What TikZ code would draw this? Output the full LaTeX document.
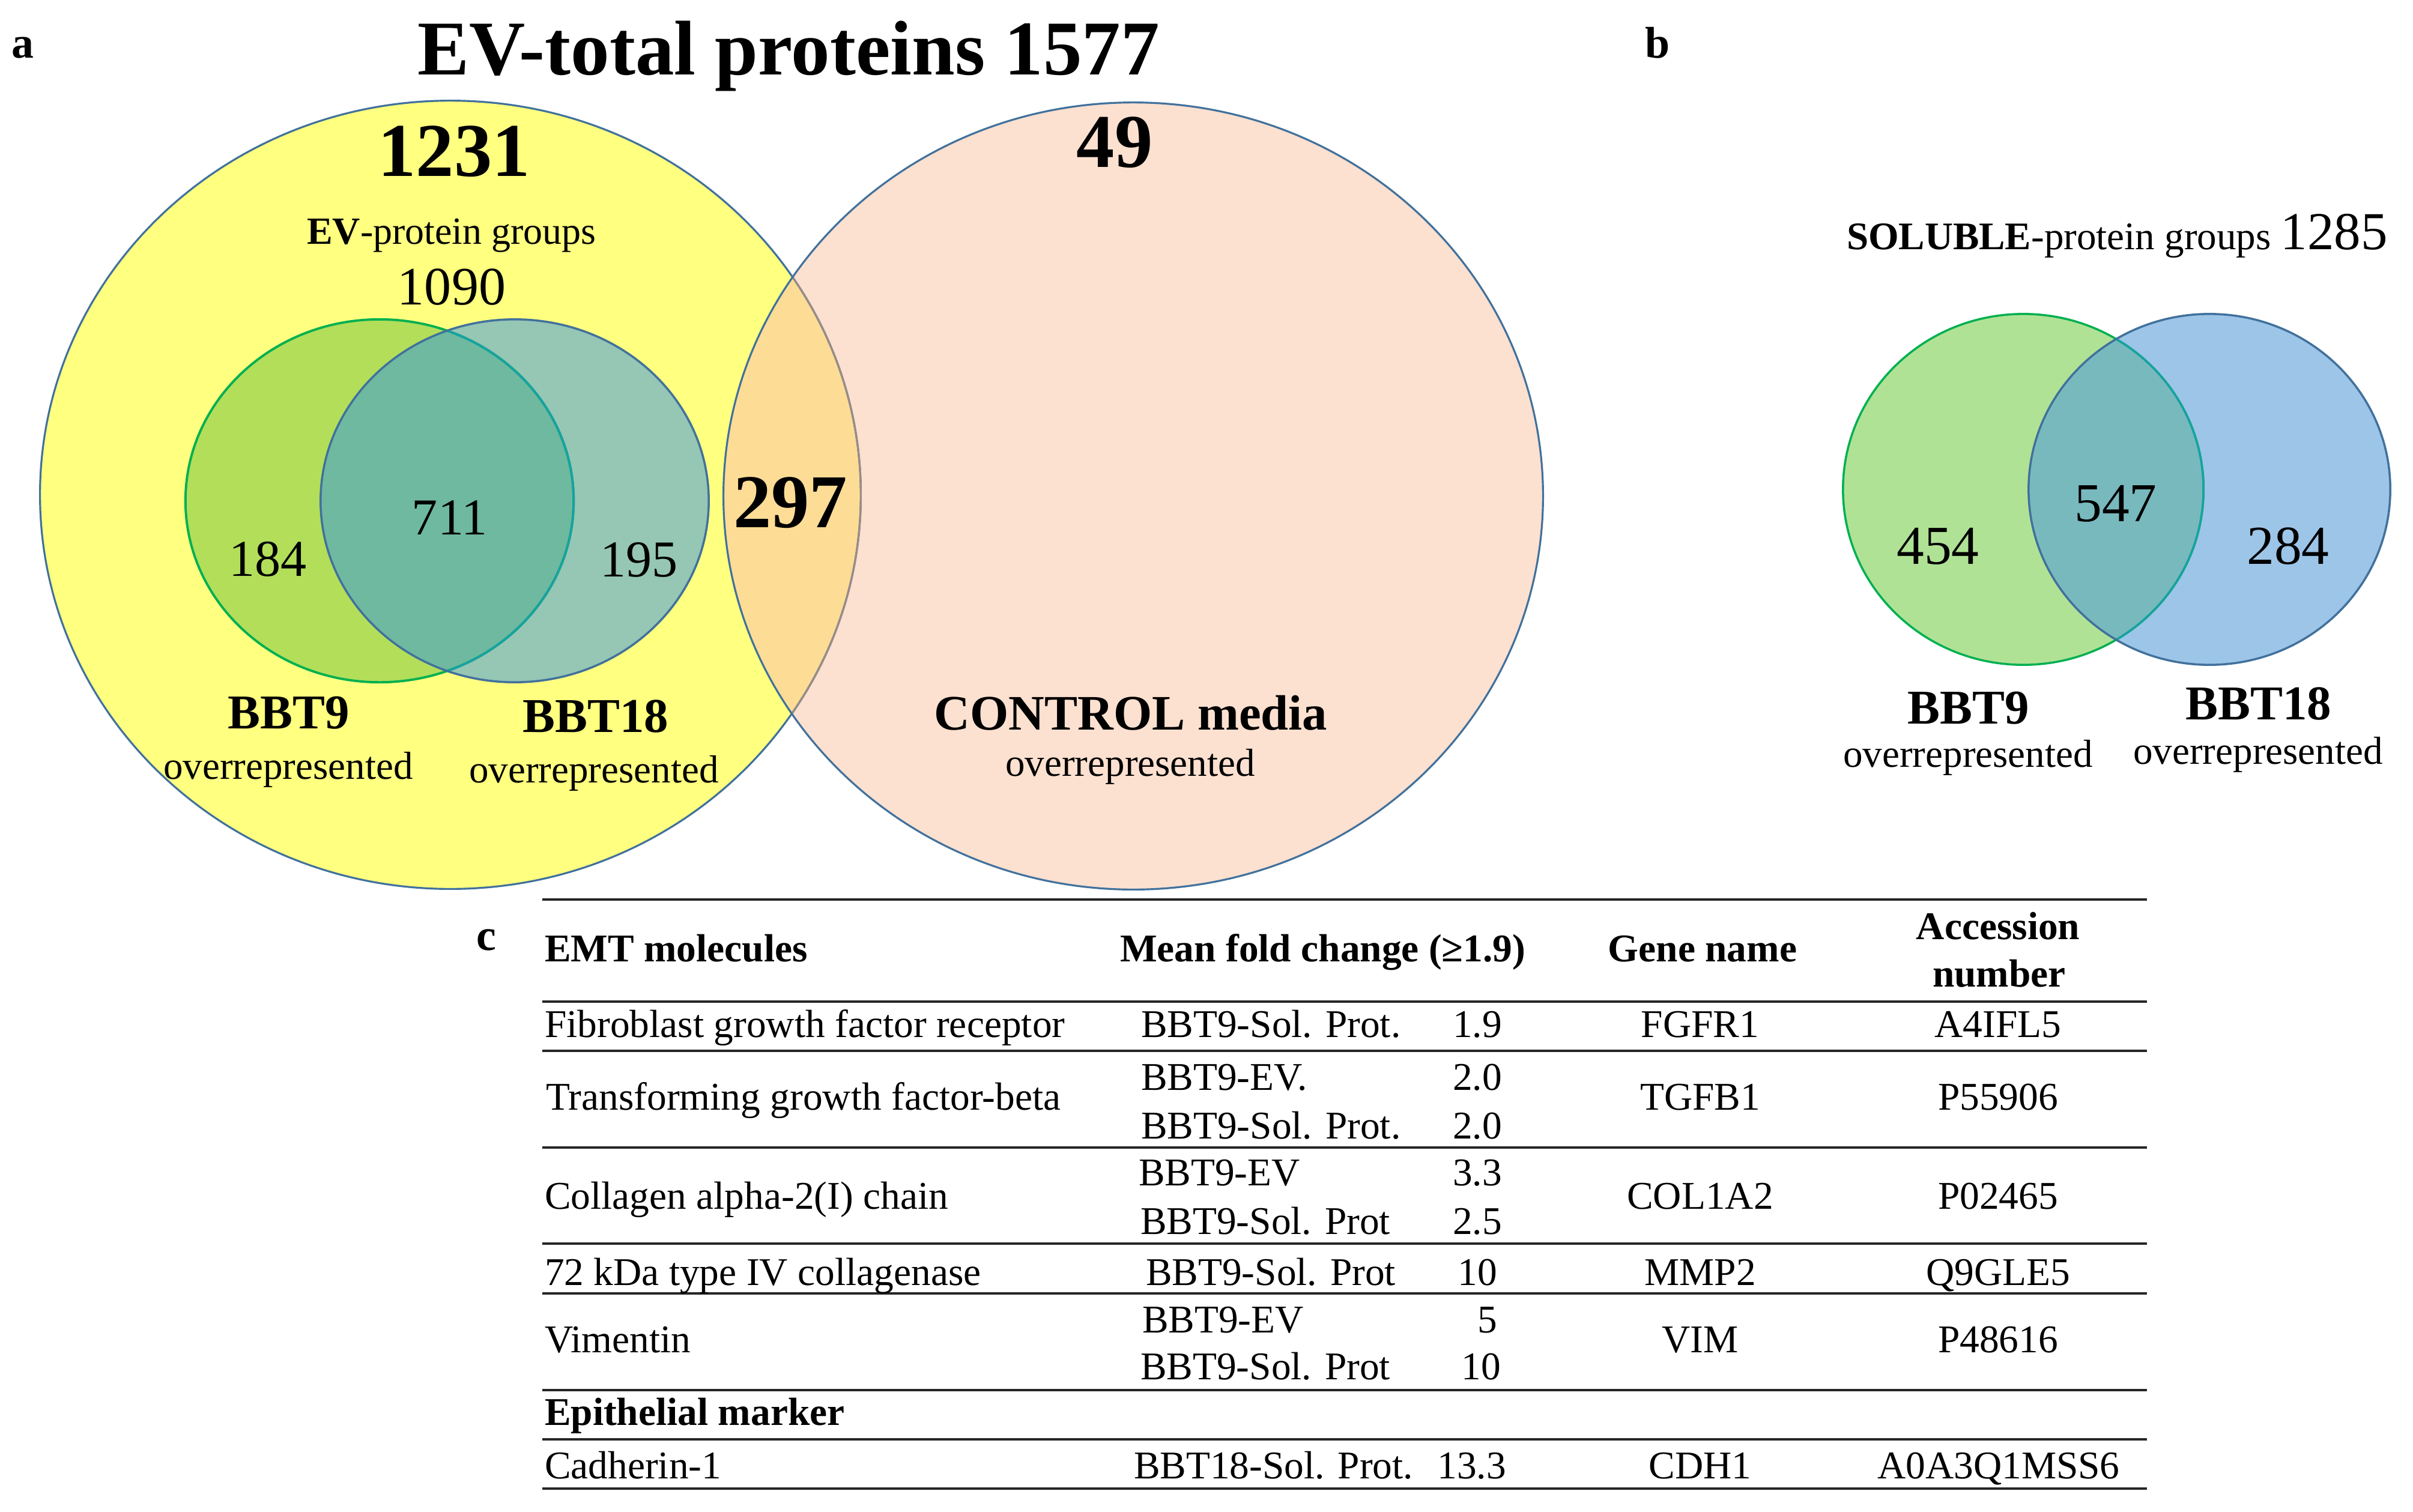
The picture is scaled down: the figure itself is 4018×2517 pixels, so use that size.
\documentclass[tikz,border=0pt]{standalone}
\usepackage{fontspec}
\setmainfont{Liberation Serif}
\newcommand\fsz[1]{\fontsize{#1pt}{#1pt}\selectfont}
\definecolor{cyel}{HTML}{FFFF80}
\definecolor{cpeach}{HTML}{FCE0D0}
\definecolor{cyp}{HTML}{FDDC96}
\definecolor{cedge}{HTML}{41719C}
\definecolor{cedgeg}{HTML}{9A8C86}
\definecolor{cgreen}{HTML}{B2DE5A}
\definecolor{cteal}{HTML}{96C6B4}
\definecolor{cgt}{HTML}{6EB9A0}
\definecolor{cgedge}{HTML}{00B050}
\definecolor{cgtedge}{HTML}{17A2A0}
\definecolor{cbgreen}{HTML}{B0E296}
\definecolor{cblue}{HTML}{9DC5E8}
\definecolor{cbgb}{HTML}{78B9BE}
\begin{document}
\begin{tikzpicture}[x=0.01cm,y=-0.01cm,
  txt/.style={inner sep=0pt, outer sep=0pt, anchor=base},
  titletxt/.style={txt, font=\fsz{36.7}\bfseries},
  plabel/.style={txt, font=\fsz{21}\bfseries},
  bignum/.style={txt, font=\fsz{36}\bfseries},
  num/.style={txt, font=\fsz{24.5}},
  bnum/.style={txt, font=\fsz{26}},
  grp/.style={txt, font=\fsz{23}\bfseries},
  over/.style={txt, font=\fsz{18.5}},
  cell/.style={txt, font=\fsz{18.6}},
  cellw/.style={cell, anchor=base west},
  celle/.style={cell, anchor=base east},
  head/.style={cell, font=\fsz{18.6}\bfseries},
  headw/.style={head, anchor=base west},
  rule/.style={line width=1.15pt, black!85}]
\useasboundingbox (0,0) rectangle (4018,2517);
\def\Eyel{(750,824) ellipse [x radius=6.83cm, y radius=6.56cm]}
\def\Epea{(1887,826) ellipse [x radius=6.82cm, y radius=6.55cm]}
\def\Egrn{(632,834) ellipse [x radius=3.23cm, y radius=3.02cm]}
\def\Etea{(857,834) ellipse [x radius=3.23cm, y radius=3.02cm]}
\def\Ebg{(3369,815) ellipse [x radius=3.00cm, y radius=2.92cm]}
\def\Ebb{(3679,815) ellipse [x radius=3.01cm, y radius=2.92cm]}
% ---- panel a: big circles
\fill[cyel] \Eyel;
\fill[cpeach] \Epea;
\begin{scope}\clip \Eyel; \fill[cyp] \Epea; \end{scope}
\draw[cedge, line width=0.9pt] \Eyel;
\begin{scope}\clip \Epea; \draw[cedgeg, line width=0.9pt] \Eyel; \end{scope}
\draw[cedge, line width=0.9pt] \Epea;
% ---- panel a: inner circles
\fill[cgreen] \Egrn;
\fill[cteal] \Etea;
\begin{scope}\clip \Egrn; \fill[cgt] \Etea; \end{scope}
\draw[cgedge, line width=1.1pt] \Egrn;
\begin{scope}\clip \Etea; \draw[cgtedge, line width=1.1pt] \Egrn; \end{scope}
\draw[cedge, line width=1.0pt] \Etea;
% ---- panel b circles
\fill[cbgreen] \Ebg;
\fill[cblue] \Ebb;
\begin{scope}\clip \Ebg; \fill[cbgb] \Ebb; \end{scope}
\draw[cgedge, line width=1.0pt] \Ebg;
\begin{scope}\clip \Ebb; \draw[cgtedge, line width=1.0pt] \Ebg; \end{scope}
\draw[cedge, line width=1.0pt] \Ebb;
% ---- panel labels and title
\node[plabel] (la) at (38,96) {a};
\node[plabel] (lb) at (2760,96) {b};
\node[plabel] (lc) at (810,1582) {c};
\node[titletxt] (title) at (1313,124) {EV-total proteins 1577};
% ---- panel a texts
\node[bignum] (n1231) at (756,293) {1231};
\node[bignum] (n49) at (1856,278) {49};
\node[txt, font=\fsz{18.2}] (evgrp) at (752,406) {\textbf{EV}-protein groups};
\node[txt, font=\fsz{25.6}] (n1090) at (752,507) {1090};
\node[num] (n711) at (749,890) {711};
\node[num] (n184) at (446,959) {184};
\node[num] (n195) at (1064,960) {195};
\node[bignum] (n297) at (1316,878) {297};
\node[grp] (abbt9) at (481,1213) {BBT9};
\node[grp] (abbt18) at (992,1219) {BBT18};
\node[over] (aover9) at (480,1297) {overrepresented};
\node[over] (aover18) at (989,1303) {overrepresented};
\node[txt, font=\fsz{23.5}\bfseries] (ctrl) at (1883,1215) {CONTROL media};
\node[over] (overc) at (1882,1292) {overrepresented};
% ---- panel b texts
\node[txt, anchor=base west, font=\fsz{18.5}] (solgrp) at (3075,415) {\textbf{SOLUBLE}-protein groups {\fsz{25.3}1285}};
\node[bnum] (n454) at (3227,939) {454};
\node[bnum] (n547) at (3523,868) {547};
\node[bnum] (n284) at (3810,939) {284};
\node[grp] (bbbt9) at (3278,1205) {BBT9};
\node[grp] (bbbt18) at (3761,1198) {BBT18};
\node[over] (bover9) at (3277,1277) {overrepresented};
\node[over] (bover18) at (3760,1272) {overrepresented};
% ---- panel c table rules
\foreach \yy in {1498,1668,1750,1911,2071,2154,2315,2397,2479}
  \draw[rule] (903,\yy) -- (3575,\yy);
% header
\node[headw] (h1) at (907,1601) {EMT molecules};
\node[headw] (h2) at (1865,1601) {Mean fold change (≥1.9)};
\node[head] (h3) at (2835,1601) {Gene name};
\node[head] (h4a) at (3327,1564) {Accession};
\node[head] (h4b) at (3329,1643) {number};
% row 1
\node[cellw] (r1a) at (907,1727) {Fibroblast growth factor receptor};
\node[cellw] (r1b) at (1900,1727) {BBT9-Sol. Prot.};
\node[celle] (r1c) at (2501,1727) {1.9};
\node[cell] (r1d) at (2831,1727) {FGFR1};
\node[cell] (r1e) at (3327,1727) {A4IFL5};
% row 2
\node[cellw] (r2a) at (909,1848) {Transforming growth factor-beta};
\node[cellw] (r2b1) at (1900,1815) {BBT9-EV.};
\node[celle] (r2c1) at (2501,1815) {2.0};
\node[cellw] (r2b2) at (1900,1896) {BBT9-Sol. Prot.};
\node[celle] (r2c2) at (2501,1896) {2.0};
\node[cell] (r2d) at (2831,1848) {TGFB1};
\node[cell] (r2e) at (3327,1848) {P55906};
% row 3
\node[cellw] (r3a) at (907,2013) {Collagen alpha-2(I) chain};
\node[cellw] (r3b1) at (1896,1974) {BBT9-EV};
\node[celle] (r3c1) at (2501,1974) {3.3};
\node[cellw] (r3b2) at (1899,2055) {BBT9-Sol. Prot};
\node[celle] (r3c2) at (2501,2055) {2.5};
\node[cell] (r3d) at (2831,2013) {COL1A2};
\node[cell] (r3e) at (3327,2013) {P02465};
% row 4
\node[cellw] (r4a) at (907,2140) {72 kDa type IV collagenase};
\node[cellw] (r4b) at (1908,2140) {BBT9-Sol. Prot};
\node[celle] (r4c) at (2493,2140) {10};
\node[cell] (r4d) at (2831,2140) {MMP2};
\node[cell] (r4e) at (3327,2140) {Q9GLE5};
% row 5
\node[cellw] (r5a) at (907,2252) {Vimentin};
\node[cellw] (r5b1) at (1902,2219) {BBT9-EV};
\node[celle] (r5c1) at (2493,2219) {5};
\node[cellw] (r5b2) at (1899,2297) {BBT9-Sol. Prot};
\node[celle] (r5c2) at (2499,2297) {10};
\node[cell] (r5d) at (2831,2252) {VIM};
\node[cell] (r5e) at (3327,2252) {P48616};
% row 6
\node[headw] (r6a) at (907,2373) {Epithelial marker};
% row 7
\node[cellw] (r7a) at (907,2462) {Cadherin-1};
\node[cellw] (r7b) at (1888,2462) {BBT18-Sol. Prot.};
\node[celle] (r7c) at (2508,2462) {13.3};
\node[cell] (r7d) at (2831,2462) {CDH1};
\node[cell] (r7e) at (3328,2462) {A0A3Q1MSS6};
\end{tikzpicture}
\end{document}
